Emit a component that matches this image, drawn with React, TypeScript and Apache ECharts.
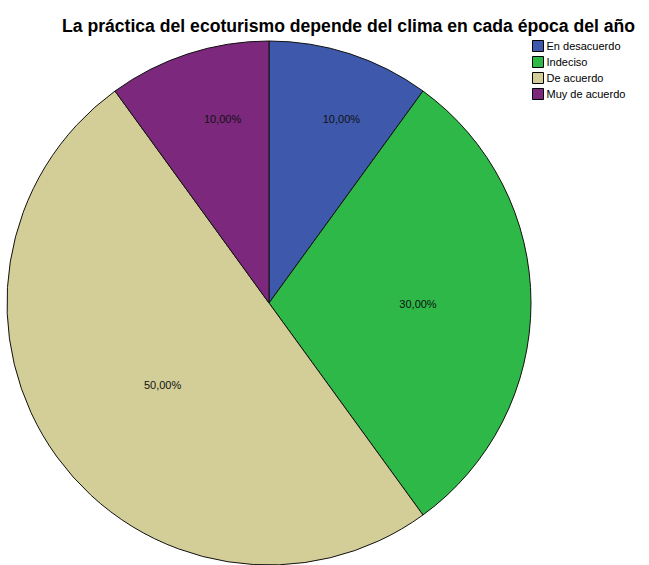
import React, { useEffect, useRef } from "react";
import * as echarts from "echarts";

const categories = ["En desacuerdo", "Indeciso", "De acuerdo", "Muy de acuerdo"];
const values = [10, 30, 50, 10];
const colors = ["#3e58ac", "#2eb848", "#d3ce97", "#7c287d"];
const labelOffsets = [
  [31, -57],
  [15, 1],
  [2, 3],
  [-5, -57],
];
const titleText = "La práctica del ecoturismo depende del clima en cada época del año";

export default function App() {
  const ref = useRef<HTMLDivElement>(null);
  useEffect(() => {
    if (!ref.current) return;
    const chart = echarts.init(ref.current, undefined, { renderer: "svg" });
    const total = values.reduce((a, b) => a + b, 0);
    chart.setOption({
      animation: false,
      backgroundColor: "#ffffff",
      title: {
        text: titleText,
        left: 57,
        top: 12,
        textStyle: {
          fontFamily: "Liberation Sans, Arial, sans-serif",
          fontSize: 17.6,
          fontWeight: "bold",
          color: "#000",
        },
      },
      legend: {
        orient: "vertical",
        left: 532,
        top: 40,
        padding: 0,
        itemWidth: 11,
        itemHeight: 11,
        itemGap: 4,
        icon: "rect",
        data: categories,
        itemStyle: { borderColor: "#000", borderWidth: 1 },
        textStyle: {
          fontFamily: "Liberation Sans, Arial, sans-serif",
          fontSize: 11,
          color: "#000",
          padding: [0, 0, 0, -2],
        },
      },
      series: [
        {
          type: "pie",
          center: [269, 303],
          radius: 262,
          startAngle: 90,
          clockwise: true,
          silent: true,
          data: categories.map((c, i) => ({
            name: c,
            value: values[i],
            itemStyle: { color: colors[i] },
          })),
          itemStyle: { borderColor: "#111", borderWidth: 1 },
          label: {
            position: "inside",
            fontFamily: "Liberation Sans, Arial, sans-serif",
            fontSize: 11,
            color: "#111",
            formatter: (p: any) =>
              ((p.value / total) * 100).toFixed(2).replace(".", ",") + "%",
          },
          labelLayout: (p: any) => ({
            dx: labelOffsets[p.dataIndex][0],
            dy: labelOffsets[p.dataIndex][1],
          }),
          labelLine: { show: false },
        },
      ],
    });
    return () => chart.dispose();
  }, []);
  return (
    <div
      ref={ref}
      style={{ position: "fixed", left: 0, top: 0, width: 649, height: 565 }}
    />
  );
}
